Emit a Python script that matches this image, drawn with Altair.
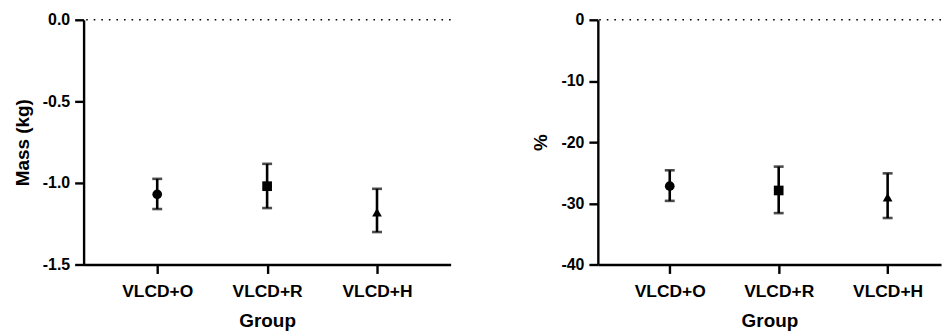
import altair as alt
import pandas as pd

groups = ["VLCD+O", "VLCD+R", "VLCD+H"]
shapes = ["circle", "square", "triangle-up"]

mass_mean = [-1.07, -1.02, -1.18]
mass_hi = [-0.975, -0.883, -1.036]
mass_lo = [-1.16, -1.154, -1.301]

pct_mean = [-27.2, -27.9, -29.0]
pct_hi = [-24.6, -24.0, -25.1]
pct_lo = [-29.6, -31.6, -32.4]

mass_ticks = [0, -0.5, -1.0, -1.5]
pct_ticks = [0, -10, -20, -30, -40]

FONT = "Liberation Sans"
AX = dict(grid=False, labelFont=FONT, titleFont=FONT, labelFontWeight="bold",
          titleFontWeight="bold", labelColor="black", titleColor="black",
          domainColor="black", domainWidth=2.4, tickColor="black", tickWidth=2.4,
          tickSize=9, titleFontSize=19)

names_js = "[" + ",".join("'%s'" % g for g in groups) + "]"


def panel(mean, hi, lo, ytitle, domain, ticks, fmt, xdomain, width):
    df = pd.DataFrame({"group": groups, "idx": list(range(len(groups))),
                       "mean": mean, "hi": hi, "lo": lo, "shape": shapes})
    xenc = alt.X("idx:Q", title="Group",
                 scale=alt.Scale(domain=xdomain, nice=False, zero=False),
                 axis=alt.Axis(values=list(range(len(groups))),
                               labelExpr=names_js + "[datum.value]",
                               labelAngle=0, labelFontSize=17.5, labelPadding=9,
                               titlePadding=12, **AX))
    yscale = alt.Scale(domain=domain, nice=False, zero=False)
    yaxis = alt.Axis(values=ticks, labelFontSize=16, labelPadding=5, titlePadding=10,
                     labelExpr="replace(format(datum.value, '%s'), '\u2212', '-')" % fmt,
                     **AX)
    base = alt.Chart(df)
    zero = alt.Chart(pd.DataFrame({"z": [0]})).mark_rule(
        color="black", strokeWidth=1.6, strokeDash=[1.6, 6]
    ).encode(y=alt.Y("z:Q", scale=yscale, axis=yaxis, title=ytitle))
    bars = base.mark_rule(color="black", strokeWidth=2.6).encode(
        x=xenc, y=alt.Y("lo:Q", scale=yscale, axis=yaxis, title=ytitle), y2="hi:Q")
    cap_lo = base.mark_tick(color="black", thickness=2.6, size=10, orient="horizontal").encode(
        x=xenc, y=alt.Y("lo:Q", scale=yscale))
    cap_hi = base.mark_tick(color="black", thickness=2.6, size=10, orient="horizontal").encode(
        x=xenc, y=alt.Y("hi:Q", scale=yscale))
    pts = base.mark_point(filled=True, color="black", opacity=1, size=95).encode(
        x=xenc, y=alt.Y("mean:Q", scale=yscale),
        shape=alt.Shape("shape:N", scale=None, legend=None))
    return alt.layer(zero, bars, cap_lo, cap_hi, pts).properties(width=width, height=246)


left = panel(mass_mean, mass_hi, mass_lo, "Mass (kg)", [-1.5, 0], mass_ticks, ".1f",
             [-0.67, 2.67], 369)
right = panel(pct_mean, pct_hi, pct_lo, "%", [-40, 0], pct_ticks, "d",
              [-0.66, 2.49], 345)

chart = alt.hconcat(left, right, spacing=80).configure_view(stroke=None).properties(
    padding={"left": 5, "top": 3, "right": 0, "bottom": 0})

chart.save("out.html", embed_options={"renderer": "svg", "actions": False})
